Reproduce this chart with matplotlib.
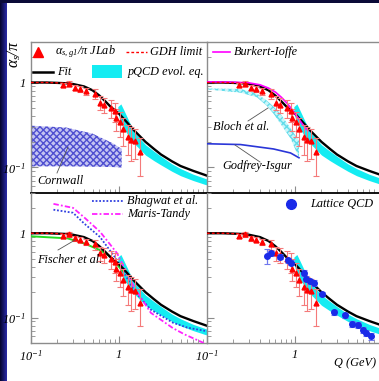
import numpy as np
import matplotlib
matplotlib.use("Agg")
import matplotlib.pyplot as plt
from matplotlib.patches import Rectangle
from matplotlib.lines import Line2D
from matplotlib.ticker import LogLocator, NullFormatter, FixedLocator, FixedFormatter

plt.rcParams['font.family'] = ['Liberation Serif', 'DejaVu Serif']
plt.rcParams['font.style'] = 'italic'
plt.rcParams['mathtext.fontset'] = 'custom'
plt.rcParams['mathtext.rm'] = 'Liberation Serif:italic'
plt.rcParams['mathtext.it'] = 'Liberation Serif:italic'

W, H = 379, 381
FS = 8.8

# --- data ---
# Fit (black)
fit_q = [0.1, 0.15, 0.2, 0.25, 0.3, 0.4, 0.5, 0.6, 0.7, 0.8, 0.9, 1.0, 1.2, 1.5, 2.0, 2.5, 3.0, 4.0, 5.0, 7.0, 10.0]
fit_a = [1.0, 1.0, 0.99, 0.98, 0.96, 0.9, 0.81, 0.7, 0.6, 0.52, 0.47, 0.43, 0.35, 0.27, 0.2, 0.165, 0.142, 0.118, 0.104, 0.091, 0.08]

# GDH limit (red dashed)
gdh_q = [0.1, 0.15, 0.2, 0.25, 0.3]
gdh_a = [1.0, 1.0, 0.99, 0.98, 0.96]

# pQCD evolution band (cyan)
pqcd_q = [0.97, 1.05, 1.15, 1.3, 1.5, 2.0, 2.5, 3.0, 4.0, 5.0, 7.0, 10.0]
pqcd_hi = [0.52, 0.56, 0.46, 0.35, 0.26, 0.185, 0.155, 0.135, 0.11, 0.097, 0.083, 0.073]
pqcd_lo = [0.44, 0.33, 0.28, 0.23, 0.19, 0.14, 0.12, 0.107, 0.09, 0.08, 0.07, 0.062]

# JLab alpha_s,g1 / pi
jl_q = [0.234, 0.272, 0.318, 0.363, 0.42, 0.54, 0.61, 0.68, 0.81, 0.89, 0.93, 1.04, 1.11, 1.26, 1.38, 1.53, 1.71]
jl_a = [0.93, 0.97, 0.87, 0.84, 0.79, 0.74, 0.58, 0.55, 0.50, 0.46, 0.38, 0.34, 0.28, 0.23, 0.21, 0.205, 0.15]
jl_err = [0.05, 0.06, 0.06, 0.06, 0.07, 0.1, 0.11, 0.11, 0.12, 0.12, 0.11, 0.11, 0.1, 0.09, 0.09, 0.08, 0.07]

# Cornwall band
corn_q = [0.1, 0.25, 0.5, 0.87, 1.07]
corn_hi = [0.31, 0.295, 0.25, 0.19, 0.165]
corn_lo = [0.103, 0.103, 0.102, 0.101, 0.1]

# Bloch et al. band
bloch_q = [0.1, 0.24, 0.37, 0.48, 0.57, 0.68, 0.89, 1.11]
bloch_hi = [0.85, 0.84, 0.74, 0.61, 0.52, 0.43, 0.29, 0.205]
bloch_lo = [0.83, 0.76, 0.67, 0.53, 0.43, 0.33, 0.22, 0.13]

# Godfrey-Isgur
gi_q = [0.1, 0.24, 0.57, 0.89, 1.11]
gi_a = [0.19, 0.186, 0.165, 0.148, 0.13]

# Burkert-Ioffe
bi_q = [0.1, 0.2, 0.3, 0.4, 0.5, 0.6, 0.7, 0.8, 0.9, 1.0, 1.2, 1.4]
bi_a = [1.02, 1.01, 0.99, 0.94, 0.86, 0.77, 0.67, 0.58, 0.5, 0.43, 0.33, 0.27]

# Fischer et al.
fi_q = [0.1, 0.26, 0.4, 0.61, 0.8, 1.0, 1.1]
fi_a = [0.92, 0.87, 0.76, 0.63, 0.53, 0.4, 0.36]

# Bhagwat et al.
bh_q = [0.18, 0.3, 0.4, 0.61, 0.95, 1.48, 2.3, 4.1, 6.0, 10.0]
bh_a = [1.9, 1.75, 1.31, 0.9, 0.48, 0.21, 0.124, 0.087, 0.076, 0.069]

# Maris-Tandy
mt_q = [0.18, 0.3, 0.4, 0.61, 0.95, 1.48, 2.3, 4.1, 5.6, 9.2]
mt_a = [2.23, 2.0, 1.55, 1.04, 0.58, 0.23, 0.114, 0.075, 0.063, 0.05]

# Lattice QCD
lat_q = [0.48, 0.54, 0.68, 0.83, 0.89, 1.26, 1.32, 1.5, 1.64, 2.04, 2.8, 3.66, 4.49, 5.21, 5.86, 6.4, 7.3]
lat_a = [0.54, 0.58, 0.53, 0.48, 0.45, 0.34, 0.29, 0.27, 0.26, 0.19, 0.115, 0.106, 0.084, 0.082, 0.071, 0.066, 0.06]
lat_err = [0.11, 0.04, 0.03, 0.03, 0.03, 0.025, 0.02, 0.02, 0.02, 0.012, 0.008, 0.008, 0.007, 0.006, 0.006, 0.005, 0.005]


def px(x, y):
    return x / W, 1 - y / H


fig = plt.figure(figsize=(W / 100, H / 100), dpi=100)
fig.patch.set_facecolor('#0a0a38')
fig.add_artist(Rectangle((7 / W, 0), 1, 1 - 3 / H, transform=fig.transFigure,
                         facecolor='white', edgecolor='none', zorder=0))
gax = fig.add_axes([0, 0, 7 / W, 1 - 3 / H])
grad = np.linspace(0, 1, 50).reshape(1, -1)
gax.imshow(grad, aspect='auto', cmap=matplotlib.colors.LinearSegmentedColormap.from_list('g', ['#04042a', '#2a2aa8']))
gax.axis('off')

lx, rx = 31 / W, 207 / W
pw = 176 / W
ty, by = 1 - 193 / H, 1 - 343 / H
th, bh = 151 / H, 150 / H

axes = {
    'tl': fig.add_axes([lx, ty, pw, th]),
    'tr': fig.add_axes([rx, ty, pw, th]),
    'bl': fig.add_axes([lx, by, pw, bh]),
    'br': fig.add_axes([rx, by, pw, bh]),
}

for key, ax in axes.items():
    ax.set_xscale('log')
    ax.set_yscale('log')
    ax.set_xlim(0.1, 10)
    ax.set_ylim(0.05, 3)
    ax.patch.set_alpha(0)
    for s in ax.spines.values():
        s.set_color('#8c8c8c')
        s.set_linewidth(1.0)
    ax.spines['right'].set_visible(False)
    if key[0] == 't':
        ax.spines['bottom'].set_color('black')
        ax.spines['bottom'].set_linewidth(1.3)
    else:
        ax.spines['top'].set_visible(False)
    ax.tick_params(which='both', direction='in', color='#8c8c8c', top=False, right=False)
    ax.tick_params(which='major', length=5)
    ax.tick_params(which='minor', length=3)
    ax.xaxis.set_major_locator(FixedLocator([0.1, 1, 10]))
    ax.xaxis.set_minor_locator(LogLocator(base=10, subs=np.arange(2, 10)))
    ax.xaxis.set_minor_formatter(NullFormatter())
    ax.yaxis.set_major_locator(FixedLocator([0.1, 1]))
    ax.yaxis.set_minor_locator(LogLocator(base=10, subs=np.arange(2, 10)))
    ax.yaxis.set_minor_formatter(NullFormatter())
    if key[1] == 'l':
        ax.yaxis.set_major_formatter(FixedFormatter(['$10^{-1}$', '1']))
    else:
        ax.yaxis.set_major_formatter(NullFormatter())
    if key[0] == 'b':
        ax.xaxis.set_major_formatter(FixedFormatter(['$10^{-1}$', '1', '']))
    else:
        ax.xaxis.set_major_formatter(NullFormatter())
    ax.tick_params(labelsize=FS, pad=4)

    # common content
    ax.fill_between(pqcd_q, pqcd_lo, pqcd_hi, color='#14ecf2', lw=0, zorder=2)
    ax.plot(fit_q, fit_a, color='black', lw=1.7, zorder=4)
    ax.plot(gdh_q, gdh_a, color='red', lw=1.0, ls=(0, (2, 1.5)), zorder=5)
    ax.errorbar(jl_q, jl_a, yerr=jl_err, fmt='none', ecolor='#f47a7a', elinewidth=0.8,
                capsize=2, capthick=0.8, zorder=5)
    ax.plot(jl_q, jl_a, ls='none', marker='^', ms=3.5, color='red', mec='red', zorder=6)

# top-left: Cornwall
ax = axes['tl']
ax.fill_between(corn_q, corn_lo, corn_hi, facecolor='#c4c4f2', edgecolor='#4e4ed0',
                hatch='xxxxx', lw=0, zorder=1)

# top-right: Bloch, Godfrey-Isgur, Burkert-Ioffe
ax = axes['tr']
ax.fill_between(bloch_q, bloch_lo, bloch_hi, facecolor='#c8f6fa', edgecolor='#62dcea',
                hatch='xxxxx', lw=0, zorder=1)
ax.plot(gi_q, gi_a, color='#2a36d8', lw=1.2, zorder=3)
ax.plot(bi_q, bi_a, color='#ff00ff', lw=1.2, zorder=4.5)

# bottom-left: Fischer, Bhagwat, Maris-Tandy
ax = axes['bl']
ax.plot(fi_q, fi_a, color='#22dd22', lw=1.4, zorder=3)
ax.plot(bh_q, bh_a, color='#3040e0', lw=1.3, ls=(0, (1, 1)), zorder=3)
ax.plot(mt_q, mt_a, color='#ff22ff', lw=1.3, ls=(0, (3, 1.2, 1, 1.2)), zorder=3)

# bottom-right: lattice
ax = axes['br']
ax.errorbar(lat_q, lat_a, yerr=lat_err, fmt='o', ms=4, color='#1a2ae8', ecolor='#6f78ee',
            elinewidth=0.9, capsize=2, capthick=0.8, zorder=7)

# --- legends and labels (figure pixel coordinates) ---
def ftext(x, y, s, **kw):
    fig.text(*px(x, y), s, fontsize=FS, va='center', ha='left', **kw)

def fline(x0, x1, y, **kw):
    a, b = px(x0, y)
    c, d = px(x1, y)
    fig.add_artist(Line2D([a, c], [b, d], transform=fig.transFigure, **kw))

def fseg(x0, y0, x1, y1):
    a, b = px(x0, y0)
    c, d = px(x1, y1)
    fig.add_artist(Line2D([a, c], [b, d], transform=fig.transFigure, color='#555555', lw=0.6))

m = Line2D([px(38, 52)[0]], [px(38, 52)[1]], transform=fig.transFigure, marker='^',
           ms=7, color='red', ls='none')
fig.add_artist(m)
ftext(55, 52, r'$\alpha_{s,g1}/\pi$ JLab')
fline(126, 147, 52, color='red', lw=1.0, ls=(0, (2, 1.5)))
ftext(150, 52, 'GDH limit')
fline(33, 53, 72, color='black', lw=1.8)
ftext(57, 72, 'Fit')
x0, y0 = px(92, 78)
fig.add_artist(Rectangle((x0, y0), 30 / W, 13 / H, transform=fig.transFigure,
                         facecolor='#14ecf2', edgecolor='none'))
ftext(128, 72, 'pQCD evol. eq.')
fline(213, 230, 52, color='#ff00ff', lw=1.2)
ftext(234, 52, 'Burkert-Ioffe')

ftext(37, 181, 'Cornwall')
fseg(57, 173, 68, 147)
ftext(213, 127, 'Bloch et al.')
fseg(248, 121, 268, 108)
ftext(222, 166, 'Godfrey-Isgur')
fseg(235, 145, 260, 162)
ftext(37, 260, 'Fischer et al.')
fseg(58, 250, 75, 240)

fline(92, 123, 201, color='#3040e0', lw=1.3, ls=(0, (1, 1)))
ftext(127, 201, 'Bhagwat et al.')
fline(92, 123, 214, color='#ff22ff', lw=1.3, ls=(0, (3, 1.2, 1, 1.2)))
ftext(127, 214, 'Maris-Tandy')
c = Line2D([px(291, 204)[0]], [px(291, 204)[1]], transform=fig.transFigure, marker='o',
           ms=7, color='#1a2ae8', ls='none')
fig.add_artist(c)
ftext(310, 204, 'Lattice QCD')

fig.text(*px(14, 54), r'$\alpha_s/\pi$', fontsize=FS + 2.5, rotation=90, ha='center', va='center')
ftext(334, 363, 'Q (GeV)')

fig.savefig('out.png', dpi=100, facecolor=fig.get_facecolor())
